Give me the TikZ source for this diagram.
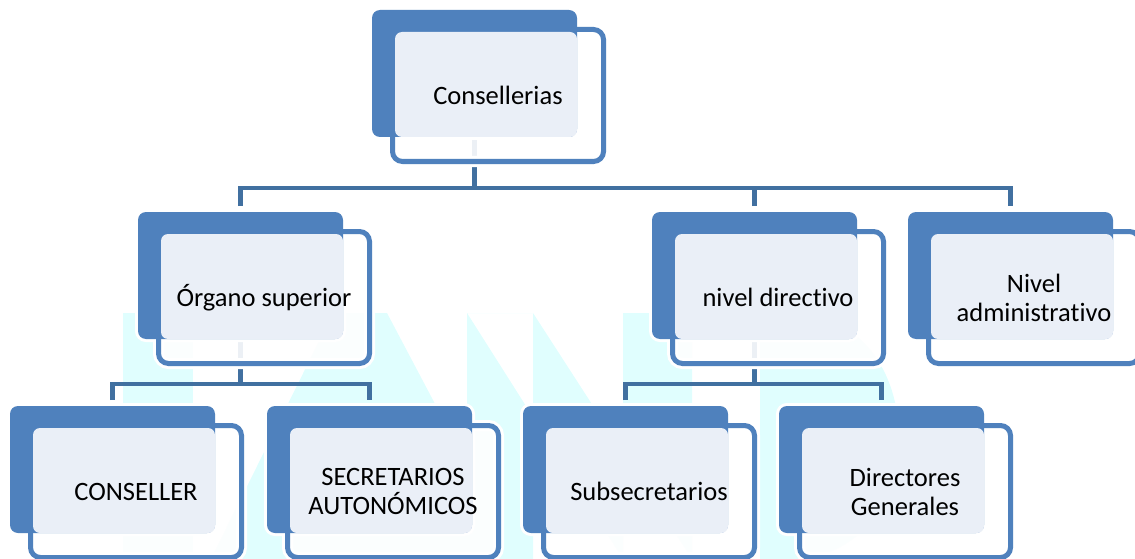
\documentclass[tikz,border=0pt]{standalone}
\usepackage{fontspec}
\setmainfont{Carlito}[Ligatures=NoCommon]
\definecolor{boxblue}{RGB}{79,129,189}
\definecolor{connblue}{RGB}{65,112,160}
\definecolor{boxlight}{RGB}{234,239,247}
\definecolor{wmark}{RGB}{224,254,254}
\pgfdeclarelayer{background}
\pgfsetlayers{background,main}

\newcommand{\orgbox}[4]{%
	\draw[white, line width=6pt, rounded corners=8pt] (#2,#3) rectangle ++(205,127);
	\draw[white, line width=11pt, rounded corners=10pt] (#2+20.5,#3+19.5) rectangle ++(211,132);
	\draw[boxblue, fill=white, fill opacity=0.9, line width=5pt, rounded corners=10pt] (#2+20.5,#3+19.5) rectangle ++(211,132);
	\fill[boxblue, rounded corners=8pt] (#2,#3) rectangle ++(205,127);
	\fill[boxlight, rounded corners=7pt] (#2+23,#3+22) rectangle ++(182,105);
	\node[boxtext] (#1) at (#2+126,#3+85.5) {#4};
	\coordinate (#1-top) at (#2+102.5,#3-6);
	\coordinate (#1-bot) at (#2+102.5,#3+127);
}

\begin{document}
\begin{tikzpicture}[x=1pt, y=-1pt,
	boxtext/.style = {align=center, inner sep=0pt, font=\fontsize{26.5}{29}\selectfont},
	conn/.style = {connblue, line width=4.5pt}]
	\clip (0,0) rectangle (1135,559);
	\orgbox{cons}{372}{10}{Consellerias}
	\orgbox{org}{138}{212}{Órgano superior}
	\orgbox{dir}{652}{212}{nivel directivo}
	\orgbox{admin}{908}{212}{Nivel\\administrativo}
	\orgbox{conseller}{10}{406}{CONSELLER}
	\orgbox{secret}{267}{406}{SECRETARIOS\\AUTONÓMICOS}
	\orgbox{subsec}{523}{406}{Subsecretarios}
	\orgbox{dirgen}{779}{406}{Directores\\Generales}
	\begin{pgfonlayer}{background}
		% watermark
		\fill[wmark] (123,313) rectangle (193,559);
		\fill[wmark] (211,559) -- (333,313) -- (387,313) -- (517,559) -- cycle;
		\fill[wmark] (467,313) rectangle (533,559)
			(467,313) -- (533,313) -- (692,559) -- (623,559) -- cycle
			(623,313) rectangle (692,559);
		\fill[wmark] (760,313) -- (790,313) .. controls (935,313) and (935,559) .. (790,559) -- (760,559) -- cycle;
		\coordinate (bartop) at (cons-bot |- 0,188);
		\coordinate (barorg) at (org-bot |- 0,384);
		\coordinate (bardir) at (dir-bot |- 0,384);
		\draw[conn] (cons-bot) -- (bartop);
		\draw[conn] (org-top) |- (bartop) -| (admin-top);
		\draw[conn] (dir-top) -- (dir-top |- bartop);
		\draw[conn] (org-bot) -- (barorg);
		\draw[conn] (conseller-top) |- (barorg) -| (secret-top);
		\draw[conn] (dir-bot) -- (bardir);
		\draw[conn] (subsec-top) |- (bardir) -| (dirgen-top);
	\end{pgfonlayer}
\end{tikzpicture}
\end{document}
